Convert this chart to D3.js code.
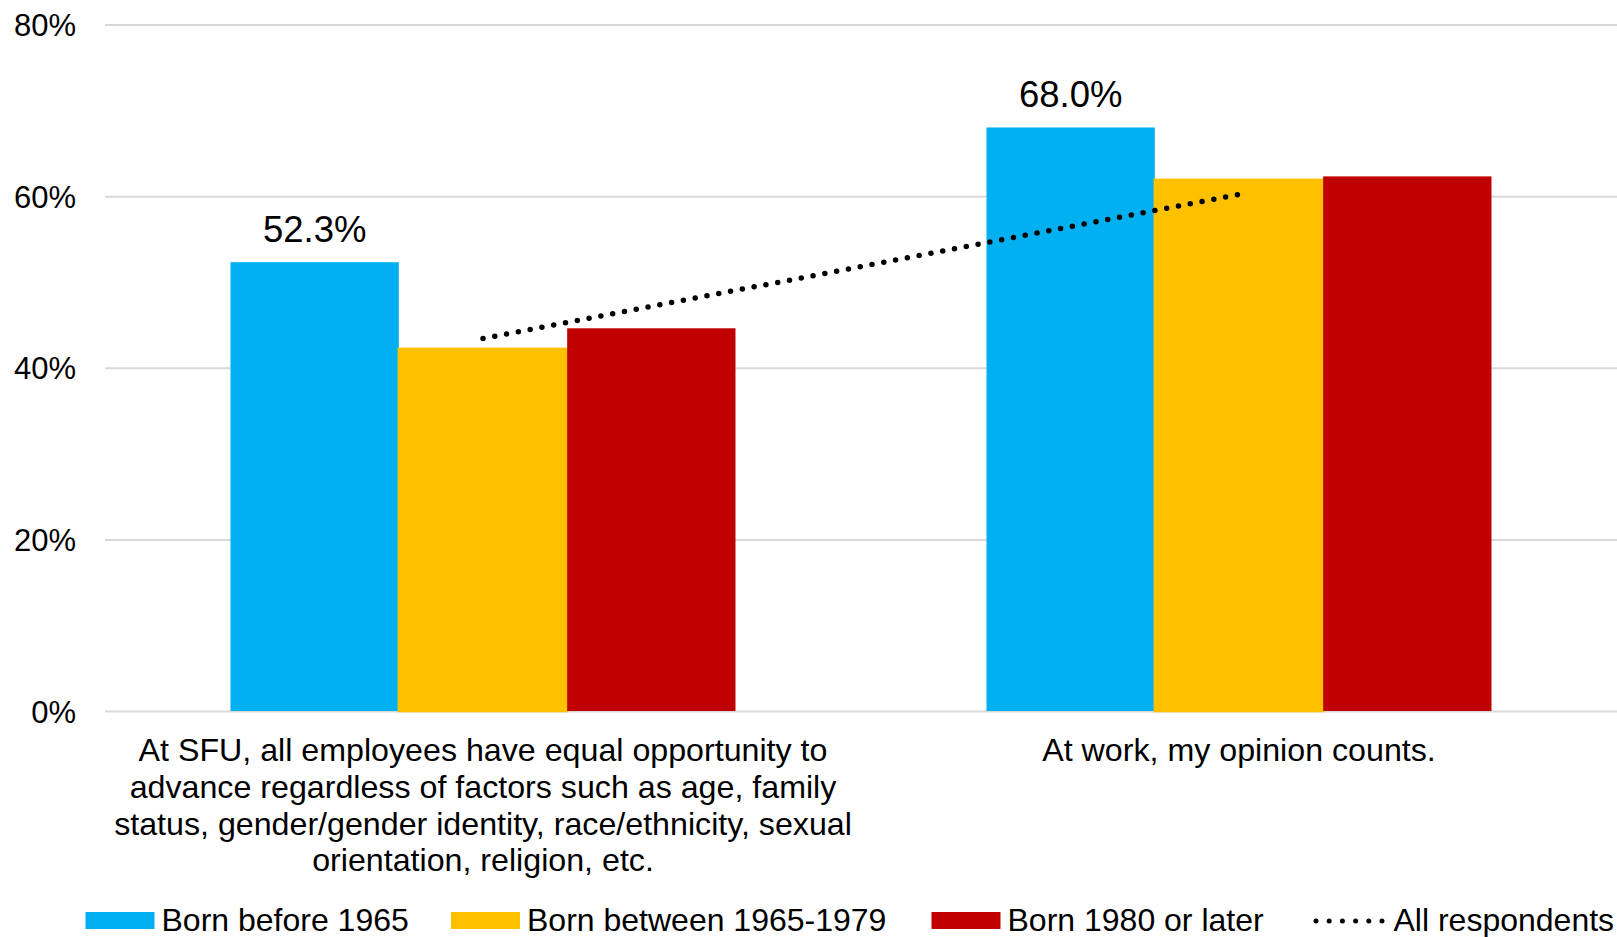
<!DOCTYPE html>
<html>
<head>
<meta charset="utf-8">
<script src="https://cdn.jsdelivr.net/npm/d3@7"></script>
<style>
  html, body { margin: 0; padding: 0; background: #fff; }
  svg { display: block; font-family: "Liberation Sans", Arial, sans-serif; }
</style>
</head>
<body>
<svg id="chart" width="1617" height="937"></svg>
<script>
// ---- data ----
const categories = ["SFU equal opportunity", "Opinion counts"];
const categoryLines = [
  ["At SFU, all employees have equal opportunity to",
   "advance regardless of factors such as age, family",
   "status, gender/gender identity, race/ethnicity, sexual",
   "orientation, religion, etc."],
  ["At work, my opinion counts."]
];
const seriesNames = ["Born before 1965", "Born between 1965-1979", "Born 1980 or later"];
const bornBefore1965 = [52.3, 68.0];
const bornBetween1965_1979 = [42.2, 61.9];
const born1980OrLater = [44.6, 62.3];
const allRespondents = [43.4, 60.2];
const lineName = "All respondents";
const yTicks = [0, 20, 40, 60, 80];
const colors = ["#00B0F0", "#FFC000", "#C00000"];

const seriesValues = [bornBefore1965, bornBetween1965_1979, born1980OrLater];

// ---- layout ----
const svg = d3.select("#chart");
const plotLeft = 105, plotRight = 1617;
const y = d3.scaleLinear().domain([0, 80]).range([711, 24.5]);
const x0 = d3.scaleBand().domain(categories).range([plotLeft, plotRight]).paddingInner(0).paddingOuter(0);
const groupWidth = 505;
const groupOffset = (x0.bandwidth() - groupWidth) / 2;
const x1 = d3.scaleBand().domain(seriesNames).range([0, groupWidth]).padding(0);

// gridlines + tick labels
const yAxis = d3.axisLeft(y).tickValues(yTicks).tickSize(-(plotRight - plotLeft)).tickFormat(d => d + "%");
const gAxis = svg.append("g").attr("transform", `translate(${plotLeft},0)`).call(yAxis);
gAxis.select(".domain").remove();
gAxis.selectAll(".tick line").attr("stroke", "#d9d9d9").attr("stroke-width", 2);
gAxis.selectAll(".tick text")
  .attr("x", -29).attr("dy", "0.36em")
  .attr("font-size", 31).attr("fill", "#000")
  .attr("font-family", '"Liberation Sans", Arial, sans-serif');

// bars
const groups = svg.append("g").selectAll("g").data(categories).join("g")
  .attr("transform", d => `translate(${x0(d) + groupOffset},0)`);

seriesNames.forEach((s, si) => {
  groups.append("rect")
    .attr("x", (d, ci) => x1(s))
    .attr("width", x1.bandwidth())
    .attr("y", (d, ci) => y(seriesValues[si][ci]))
    .attr("height", (d, ci) => y(0) - y(seriesValues[si][ci]))
    .attr("fill", colors[si])
    .attr("stroke", si === 1 ? colors[si] : "none")
    .attr("stroke-width", si === 1 ? 2.5 : 0);
});

// data labels on the first series
groups.append("text")
  .attr("x", x1(seriesNames[0]) + x1.bandwidth() / 2)
  .attr("y", (d, ci) => y(bornBefore1965[ci]) - 20)
  .attr("text-anchor", "middle")
  .attr("font-size", 36.5)
  .attr("fill", "#000")
  .text((d, ci) => bornBefore1965[ci].toFixed(1) + "%");

// All respondents dotted line (through middle of each group)
const lineX = (ci) => x0(categories[ci]) + groupOffset + x1(seriesNames[1]) + x1.bandwidth() / 2;
const line = d3.line().x((d, i) => lineX(i)).y(d => y(d));
svg.append("path")
  .datum(allRespondents)
  .attr("d", line)
  .attr("fill", "none")
  .attr("stroke", "#000")
  .attr("stroke-width", 5.5)
  .attr("stroke-linecap", "round")
  .attr("stroke-dasharray", "0 12");

// category labels
const catG = svg.append("g");
categories.forEach((c, ci) => {
  const t = catG.append("text")
    .attr("text-anchor", "middle")
    .attr("font-size", 32.2)
    .attr("fill", "#000");
  categoryLines[ci].forEach((ln, li) => {
    t.append("tspan")
      .attr("x", x0(c) + x0.bandwidth() / 2)
      .attr("y", 761 + li * 36.8)
      .text(ln);
  });
});

// legend
const legendX = [85.5, 451, 931.5, 1316];
const legendY = 930.5;
const leg = svg.append("g");
seriesNames.forEach((s, si) => {
  leg.append("rect")
    .attr("x", legendX[si]).attr("y", 912)
    .attr("width", 69).attr("height", 17)
    .attr("fill", colors[si]);
  leg.append("text")
    .attr("x", legendX[si] + 76).attr("y", legendY)
    .attr("font-size", 32).attr("fill", "#000")
    .text(s);
});
leg.append("line")
  .attr("x1", legendX[3]).attr("x2", legendX[3] + 66)
  .attr("y1", 921).attr("y2", 921)
  .attr("stroke", "#000").attr("stroke-width", 5)
  .attr("stroke-linecap", "round")
  .attr("stroke-dasharray", "0 13.2");
leg.append("text")
  .attr("x", 1393.5).attr("y", legendY)
  .attr("font-size", 32).attr("fill", "#000")
  .text(lineName);
</script>
</body>
</html>
